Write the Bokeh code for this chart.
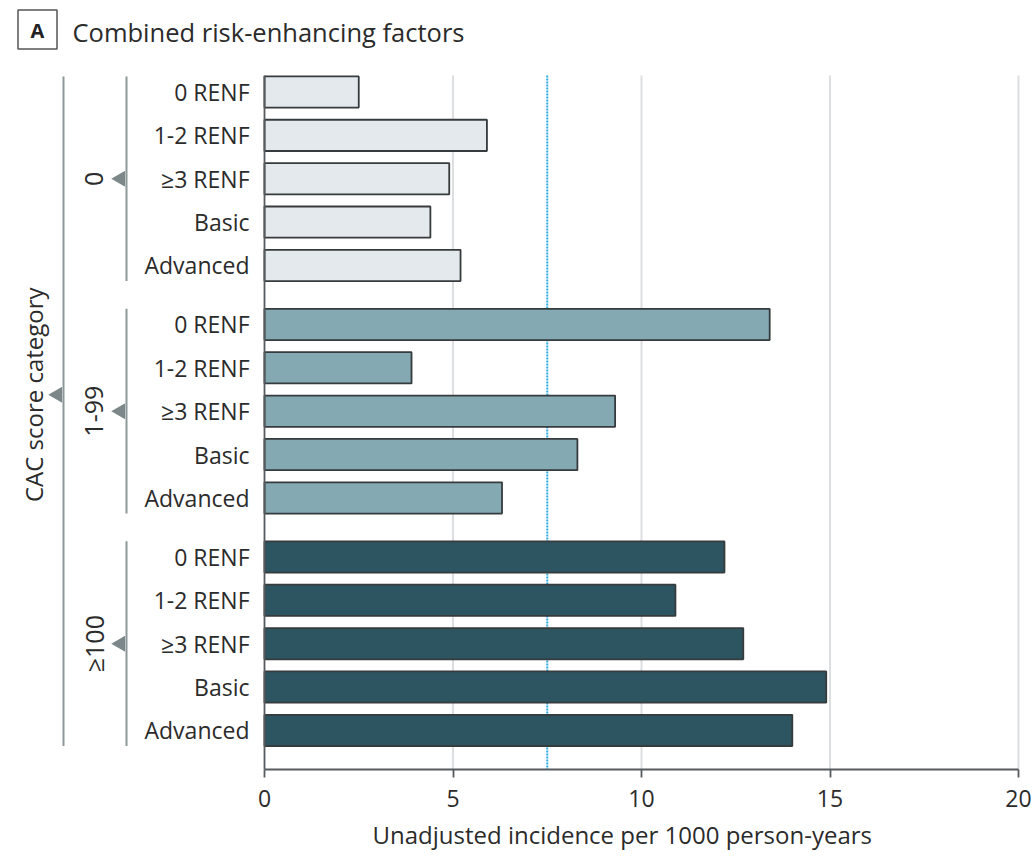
import math

from bokeh.plotting import figure
from bokeh.models import Range1d, FixedTicker, ColumnDataSource, Title
from bokeh.core.properties import value
from bokeh.embed import file_html
from bokeh.resources import INLINE

# ---- data -------------------------------------------------------------
cac_groups = ["0", "1-99", "≥100"]
renf_levels = ["0 RENF", "1-2 RENF", "≥3 RENF", "Basic", "Advanced"]
incidence_cac0 = [2.5, 5.9, 4.9, 4.4, 5.2]
incidence_cac1_99 = [13.4, 3.9, 9.3, 8.3, 6.3]
incidence_cac100 = [12.2, 10.9, 12.7, 14.9, 14.0]
group_colors = ["#E4E9ED", "#84A9B3", "#2C5461"]
x_ticks = [0, 5, 10, 15, 20]
overall_rate = 7.5

# ---- layout -----------------------------------------------------------
W, H = 1036, 856
FRAME_H = 769          # frame height; x axis sits below it
X0_PX, X20_PX = 264, 1018
PPU_X = (X20_PX - X0_PX) / 20.0
GROUP_GAP = 0.36       # extra slots between CAC groups
BAR_H = 0.72
SLOT_PX = 43.37
FIRST_BAR_PX = 91.5

FONT = "Open Sans"
TEXT_COLOR = "#2b2b2b"
BRACKET_COLOR = "#8E9799"
ARROW_COLOR = "#7B8788"

series = [incidence_cac0, incidence_cac1_99, incidence_cac100]
n_sub = len(renf_levels)

ys, xs, labels, fills = [], [], [], []
for g, vals in enumerate(series):
    for i, v in enumerate(vals):
        ys.append(g * (n_sub + GROUP_GAP) + i)
        xs.append(v)
        labels.append(renf_levels[i])
        fills.append(group_colors[g])

y_top = -FIRST_BAR_PX / SLOT_PX
y_bottom = y_top + FRAME_H / SLOT_PX
plot_top = min(ys) - BAR_H / 2 - 0.02

p = figure(
    width=W, height=H,
    x_range=Range1d(-X0_PX / PPU_X, 20 + (W - X20_PX) / PPU_X),
    y_range=Range1d(y_bottom, y_top),
    y_axis_location=None,
    toolbar_location=None,
    output_backend="svg",
    min_border_left=0, min_border_right=0, min_border_top=0,
    min_border_bottom=H - FRAME_H,
)
p.extra_x_ranges = {"px": Range1d(0, W)}
p.extra_y_ranges = {"px": Range1d(FRAME_H, 0)}
p.outline_line_color = None
p.grid.visible = False
p.background_fill_color = "white"
p.border_fill_color = "white"

# vertical gridlines
p.segment(x0=x_ticks[1:], x1=x_ticks[1:], y0=plot_top, y1=y_bottom,
          line_color="#DCDFE2", line_width=2)

# overall reference rate
p.segment(x0=[overall_rate], x1=[overall_rate], y0=plot_top, y1=y_bottom,
          line_color="#2AAAE2", line_width=2, line_dash="2 1")

# bars
src = ColumnDataSource(dict(y=ys, x=xs, fill=fills, label=labels))
p.hbar(y="y", left=0, right="x", height=BAR_H, source=src,
       fill_color="fill", line_color="#363B3D", line_width=1.8)

# y axis rule
p.segment(x0=[0], x1=[0], y0=plot_top, y1=y_bottom,
          line_color="#555B5E", line_width=1.8)

# sub-category labels
p.text(x=[(249 - X0_PX) / PPU_X] * len(ys), y=ys, text=labels,
       text_align="right", text_baseline="middle",
       text_font=value(FONT), text_font_size="23px", text_color=TEXT_COLOR)

# group brackets, arrows and labels
for g, name in enumerate(cac_groups):
    g_ys = ys[g * n_sub:(g + 1) * n_sub]
    lo, hi = min(g_ys) - BAR_H / 2, max(g_ys) + BAR_H / 2
    mid = (min(g_ys) + max(g_ys)) / 2
    p.segment(x0=[126], x1=[126], y0=[lo], y1=[hi], x_range_name="px",
              line_color=BRACKET_COLOR, line_width=2)
    p.scatter(x=[120], y=[mid], marker="triangle", size=16, angle=math.pi / 2,
              x_range_name="px", fill_color=ARROW_COLOR, line_color=None)
    p.text(x=[93], y=[mid], text=[name], angle=math.pi / 2, x_range_name="px",
           text_align="center", text_baseline="middle",
           text_font=value(FONT), text_font_size="25px", text_color=TEXT_COLOR)

outer_lo, outer_hi = min(ys) - BAR_H / 2, max(ys) + BAR_H / 2
outer_mid = (min(ys) + max(ys)) / 2 - 0.38
p.segment(x0=[63], x1=[63], y0=[outer_lo], y1=[outer_hi], x_range_name="px",
          line_color=BRACKET_COLOR, line_width=2)
p.scatter(x=[57], y=[outer_mid], marker="triangle", size=16, angle=math.pi / 2,
          x_range_name="px", fill_color=ARROW_COLOR, line_color=None)
p.text(x=[33], y=[outer_mid], text=["CAC score category"], angle=math.pi / 2,
       x_range_name="px", text_align="center", text_baseline="middle",
       text_font=value(FONT), text_font_size="24px", text_color=TEXT_COLOR)

# panel heading
p.rect(x=[37], y=[29], width=39, height=39, x_range_name="px", y_range_name="px",
       fill_color=None, line_color="#555555", line_width=1.5)
p.text(x=[37], y=[30], text=["A"], x_range_name="px", y_range_name="px",
       text_align="center", text_baseline="middle", text_font_style="bold",
       text_font=value(FONT), text_font_size="20px", text_color="#222222")
p.text(x=[72], y=[31], text=["Combined risk-enhancing factors"],
       x_range_name="px", y_range_name="px",
       text_align="left", text_baseline="middle",
       text_font=value(FONT), text_font_size="25.5px", text_color=TEXT_COLOR)

# x axis
ax = p.xaxis[0]
ax.bounds = (0, 20)
ax.ticker = FixedTicker(ticks=x_ticks)
ax.minor_tick_line_color = None
ax.major_tick_in = 0
ax.major_tick_out = 8
ax.axis_line_color = "#555B5E"
ax.axis_line_width = 1.8
ax.major_tick_line_color = "#555B5E"
ax.major_tick_line_width = 1.8
ax.major_label_text_font = FONT
ax.major_label_text_font_size = "23px"
ax.major_label_text_color = TEXT_COLOR
ax.major_label_standoff = 12

# axis title, placed under the bar area rather than the whole frame
p.add_layout(Title(text="Unadjusted incidence per 1000 person-years",
                   align="left", offset=372, standoff=12,
                   text_font=FONT, text_font_size="24px",
                   text_font_style="normal", text_color=TEXT_COLOR), "below")

open("out.html", "w").write(file_html(p, INLINE))
